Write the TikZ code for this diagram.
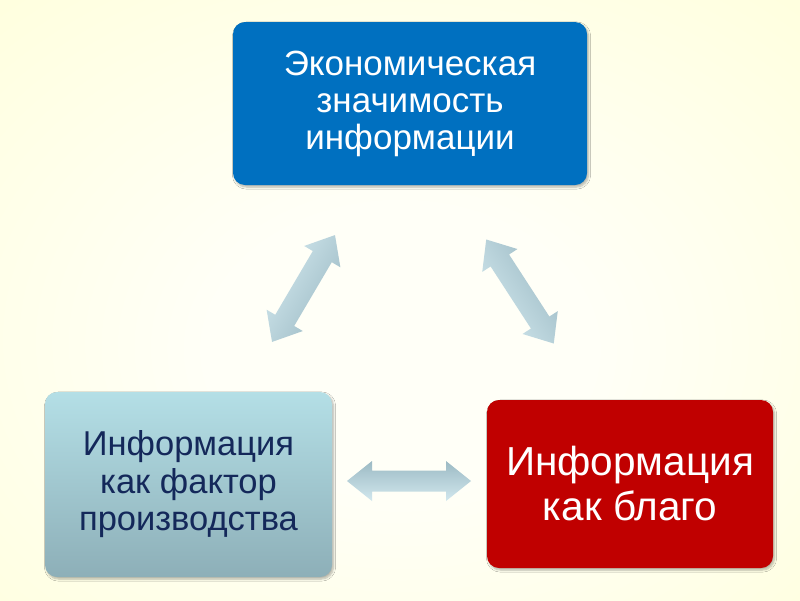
\documentclass[tikz,border=0pt]{standalone}
\usepackage{fontspec}
\setmainfont{Liberation Sans}
\usetikzlibrary{shadows.blur}
\definecolor{bgin}{HTML}{FFFFF7}
\definecolor{bgmid}{HTML}{FFFFD2}
\definecolor{bgout}{HTML}{FFFFC2}
\definecolor{topblue}{HTML}{0070C0}
\definecolor{boxred}{HTML}{C00000}
\definecolor{tealtop}{HTML}{B4DFE6}
\definecolor{tealbot}{HTML}{8DAFB8}
\definecolor{navytext}{HTML}{14285A}
\definecolor{arrlight}{HTML}{D2E8EE}
\definecolor{arrdark}{HTML}{9CBAC4}
\pgfdeclareradialshading{bgshade}{\pgfpoint{0bp}{-5bp}}{color(0bp)=(bgin); color(12bp)=(bgin); color(50bp)=(bgmid); color(72bp)=(bgout)}
\begin{document}
\begin{tikzpicture}[x=1pt,y=-1pt,
  box/.style={rounded corners=12pt, inner sep=0pt, align=center,
    blur shadow={shadow xshift=1.5pt, shadow yshift=-2pt, shadow blur steps=6, shadow opacity=30}},
  arrowshape/.style={shade, draw=none}]
\shade[shading=bgshade] (0,0) rectangle (800,600);
\useasboundingbox (0,0) rectangle (800,600);

\node[box, fill=topblue, text=white, minimum width=354pt, minimum height=163pt,
  font=\fontsize{35}{37}\selectfont] (econ) at (410,103.5)
  {Экономическая\\значимость\\информации};
\node[box, top color=tealtop, bottom color=tealbot, text=navytext,
  minimum width=287pt, minimum height=185pt,
  font=\fontsize{34.5}{37.5}\selectfont] (factor) at (188.5,484.5)
  {Информация\\как фактор\\производства};
\node[box, fill=boxred, text=white, minimum width=286pt, minimum height=168pt,
  font=\fontsize{40.5}{45}\selectfont] (good) at (630,484)
  {Информация\\как благо};

\coordinate (aleft) at (303.5,288.5);
\coordinate (aright) at (520,291.5);
\coordinate (abottom) at (409,481);

\begin{scope}[shift={(aleft)}, rotate=59.5]
  \shade[arrowshape, top color=arrlight, bottom color=arrdark, shading angle=59.5]
    (-62,0) -- (-37,21) -- (-37,11) -- (37,11) -- (37,21) -- (62,0)
    -- (37,-21) -- (37,-11) -- (-37,-11) -- (-37,-21) -- cycle;
\end{scope}
\begin{scope}[shift={(aright)}, rotate=-57]
  \shade[arrowshape, top color=arrdark, bottom color=arrlight, shading angle=-57]
    (-62,0) -- (-37,21) -- (-37,11) -- (37,11) -- (37,21) -- (62,0)
    -- (37,-21) -- (37,-11) -- (-37,-11) -- (-37,-21) -- cycle;
\end{scope}
\begin{scope}[shift={(abottom)}]
  \shade[arrowshape, top color=arrdark, bottom color=arrlight]
    (-62,0) -- (-37,20) -- (-37,10.5) -- (37,10.5) -- (37,20) -- (62,0)
    -- (37,-20) -- (37,-10.5) -- (-37,-10.5) -- (-37,-20) -- cycle;
\end{scope}
\end{tikzpicture}
\end{document}
